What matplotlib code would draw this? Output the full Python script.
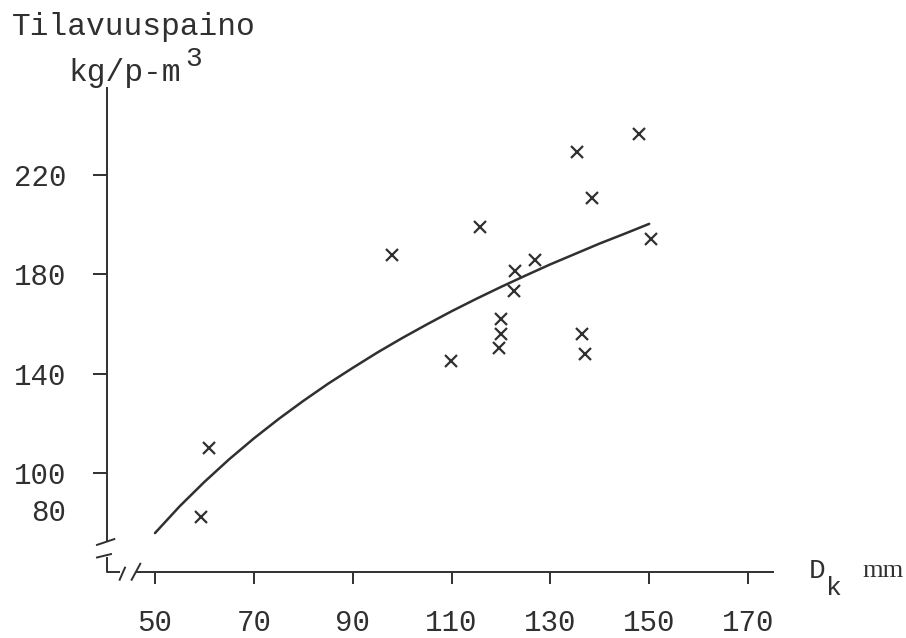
import matplotlib
matplotlib.use("Agg")
import matplotlib.pyplot as plt

# measured stem diameter (mm) and volume weight (kg per m3 solid)
dk = [59.3, 61.0, 97.9, 109.9, 115.8, 120.0, 120.0, 119.6, 122.8, 122.7,
      126.9, 136.5, 137.1, 135.3, 138.5, 148.0, 150.4]
weight = [82.4, 109.9, 187.8, 145.0, 199.1, 162.0, 155.8, 150.4, 181.5, 173.4,
          185.8, 155.8, 147.9, 229.4, 210.6, 236.5, 194.3]

# regression curve, read at every 5 mm
curve_dk = [50, 55, 60, 65, 70, 75, 80, 85, 90, 95, 100,
            105, 110, 115, 120, 125, 130, 135, 140, 145, 150]
curve_w = [75.8, 86.6, 96.4, 105.5, 113.9, 121.7, 129.0, 135.9, 142.3, 148.5, 154.3,
           159.8, 165.1, 170.1, 174.9, 179.5, 184.0, 188.2, 192.4, 196.3, 200.3]

xticks = [50, 70, 90, 110, 130, 150, 170]
yticks = [100, 140, 180, 220]

ink = "#303030"
plt.rcParams['font.family'] = ['Liberation Mono', 'DejaVu Sans Mono']

W, H = 906, 638
fig = plt.figure(figsize=(W / 100, H / 100), dpi=100)
ax = fig.add_axes([107 / W, 1 - 572 / H, 666 / W, 484 / H])

ax.plot(curve_dk, curve_w, color=ink, lw=1.8, solid_capstyle='round')
ax.plot(dk, weight, ls='none', marker='x', ms=9, mew=1.6, color=ink)

ax.set_xlim(40.29, 175.05)
ax.set_ylim(60.13, 255.0)

for s in ['top', 'right']:
    ax.spines[s].set_visible(False)
ax.spines['left'].set_bounds(72.6, 255.0)
ax.spines['bottom'].set_bounds(46.4, 175.05)
for s in ['left', 'bottom']:
    ax.spines[s].set_color(ink)
    ax.spines[s].set_linewidth(1.4)

ax.set_xticks(xticks)
ax.set_yticks(yticks)
ax.tick_params(axis='x', direction='out', length=8.5, width=1.4, color=ink,
               pad=18, labelsize=21, labelcolor=ink)
ax.tick_params(axis='y', direction='out', length=10, width=1.4, color=ink,
               pad=19, labelsize=21, labelcolor=ink)

# the 80 label sits without a tick
ax.annotate('80', xy=(0, 84), xycoords=('axes fraction', 'data'),
            xytext=(-29.5, 0), textcoords='offset points',
            ha='right', va='center', fontsize=21, color=ink)

# broken-axis corner and break marks (axes fractions)
kw = dict(transform=ax.transAxes, color=ink, lw=1.4, clip_on=False)
ax.plot([0, 0, 0.018], [0.029, 0, 0], **kw)
ax.plot([-0.015, 0.011], [0.056, 0.068], **kw)
ax.plot([-0.015, 0.006], [0.030, 0.037], **kw)
ax.plot([0.019, 0.027], [-0.016, 0.009], **kw)
ax.plot([0.037, 0.050], [-0.016, 0.017], **kw)

# axis titles
fig.text(12 / W, 1 - 35 / H, 'Tilavuuspaino', fontsize=22.5, color=ink, va='baseline')
fig.text(68 / W, 1 - 81 / H, 'kg/p-m', fontsize=22.5, color=ink, va='baseline')
fig.text(185 / W, 1 - 66 / H, '3', fontsize=20, color=ink, va='baseline')
fig.text(809 / W, 1 - 578 / H, 'D', fontsize=20, color=ink, va='baseline')
fig.text(826 / W, 1 - 595 / H, 'k', fontsize=19, color=ink, va='baseline')
fig.text(862 / W, 1 - 577 / H, 'mm', fontsize=19, color=ink, va='baseline',
         family='Liberation Serif')

fig.savefig('out.png', dpi=100, facecolor='white')
